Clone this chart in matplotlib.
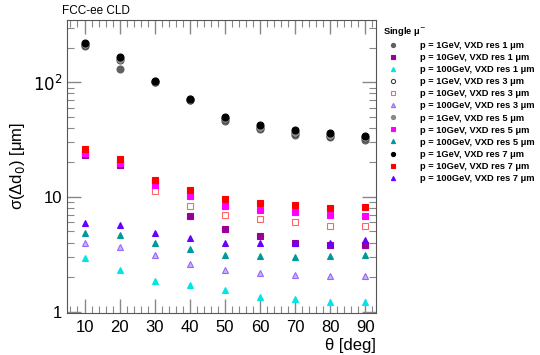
import numpy as np
import matplotlib
matplotlib.use("Agg")
import matplotlib.pyplot as plt
from matplotlib.ticker import FixedLocator, FuncFormatter, MultipleLocator

plt.rcParams['font.family'] = ['Liberation Sans', 'DejaVu Sans']

theta = [10, 20, 30, 40, 50, 60, 70, 80, 90]

# 1 GeV
p1_res1 = [207, 130, 100, 70, 46, 39, 35, 33, 31.5]
p1_res3 = [212, 155, 101, 70, 48, 40, 36, 34, 32.5]
p1_res5 = [215, 160, 102, 71, 49, 41, 37, 35, 33]
p1_res7 = [220, 166, 102, 71, 50, 42, 38, 36, 34]
# 10 GeV
p10_res1 = [23.3, 19.1, 13.8, 6.8, 5.2, 4.55, 4.0, 3.8, 3.8]
p10_res3 = [24.0, 19.6, 11.3, 8.3, 6.95, 6.4, 6.0, 5.6, 5.6]
p10_res5 = [24.3, 19.9, 12.7, 10.2, 8.3, 7.7, 7.4, 6.95, 6.8]
p10_res7 = [26.4, 21.5, 14.1, 11.5, 9.6, 8.85, 8.5, 8.0, 8.2]
# 100 GeV
p100_res1 = [2.92, 2.29, 1.83, 1.69, 1.53, 1.33, 1.28, 1.22, 1.22]
p100_res3 = [3.95, 3.65, 3.1, 2.6, 2.29, 2.16, 2.1, 2.05, 2.05]
p100_res5 = [4.8, 4.65, 3.95, 3.5, 3.1, 3.05, 3.0, 3.05, 3.1]
p100_res7 = [5.9, 5.7, 4.8, 4.37, 4.0, 4.0, 3.95, 3.95, 4.2]

labels = [
    "p = 1GeV, VXD res 1 μm", "p = 10GeV, VXD res 1 μm", "p = 100GeV, VXD res 1 μm",
    "p = 1GeV, VXD res 3 μm", "p = 10GeV, VXD res 3 μm", "p = 100GeV, VXD res 3 μm",
    "p = 1GeV, VXD res 5 μm", "p = 10GeV, VXD res 5 μm", "p = 100GeV, VXD res 5 μm",
    "p = 1GeV, VXD res 7 μm", "p = 10GeV, VXD res 7 μm", "p = 100GeV, VXD res 7 μm",
]
series = [p1_res1, p10_res1, p100_res1, p1_res3, p10_res3, p100_res3,
          p1_res5, p10_res5, p100_res5, p1_res7, p10_res7, p100_res7]

# (marker, face, edge)
styles = [
    ('o', '#606060', '#606060'), ('s', '#990099', '#990099'), ('^', '#00e5e5', '#00e5e5'),
    ('o', 'white', '#404040'), ('s', 'white', '#ff6666'), ('^', '#c8b4f0', '#9966ff'),
    ('o', '#8a8a8a', '#8a8a8a'), ('s', '#ff00ff', '#ff00ff'), ('^', '#009999', '#009999'),
    ('o', 'black', 'black'), ('s', '#ff0000', '#ff0000'), ('^', '#6600ff', '#6600ff'),
]

fig = plt.figure(figsize=(5.4, 3.55), dpi=100)
ax = fig.add_axes([0.124, 0.118, 0.572, 0.826])

for y, lab, (m, fc, ec) in zip(series, labels, styles):
    ax.plot(theta, y, linestyle='none', marker=m, markersize=5,
            markerfacecolor=fc, markeredgecolor=ec, markeredgewidth=0.8, label=lab)

ax.set_yscale('log')
ax.set_xlim(5, 93)
ax.set_ylim(0.97, 350)

ax.xaxis.set_major_locator(MultipleLocator(10))
ax.xaxis.set_minor_locator(MultipleLocator(2))
ax.yaxis.set_major_locator(FixedLocator([1, 10, 100]))
ax.yaxis.set_minor_locator(FixedLocator([v * d for d in (1, 10, 100) for v in range(2, 10)]))
ax.yaxis.set_major_formatter(FuncFormatter(lambda v, p: {1: '1', 10: '10', 100: r'$10^2$'}.get(round(v), '')))
ax.yaxis.set_minor_formatter(FuncFormatter(lambda v, p: ''))

ax.tick_params(which='both', direction='in', top=True, right=True, colors='#888888',
               labelcolor='black', labelsize=12)
ax.tick_params(which='major', length=10, width=1)
ax.tick_params(which='minor', length=5, width=0.8)
ax.tick_params(axis='x', which='major', pad=5)
for s in ax.spines.values():
    s.set_color('#555555')
    s.set_linewidth(0.8)

ax.set_ylabel('σ(Δd$_0$) [μm]', fontsize=12)
ax.set_xlabel('θ [deg]', fontsize=12, loc='right', labelpad=2)

fig.text(0.115, 0.968, 'FCC-ee CLD', fontsize=8.5, ha='left', va='center')

leg = ax.legend(loc='upper left', bbox_to_anchor=(1.012, 0.995), frameon=False,
                fontsize=6.7, title='Single μ$^{-}$', title_fontsize=6.7,
                handletextpad=2.0, labelspacing=0.33, markerscale=0.6, borderaxespad=0)
leg._legend_box.align = 'left'
leg.get_title().set_fontweight('bold')
for t in leg.get_texts():
    t.set_fontweight('bold')

fig.savefig('out.png', dpi=100)
